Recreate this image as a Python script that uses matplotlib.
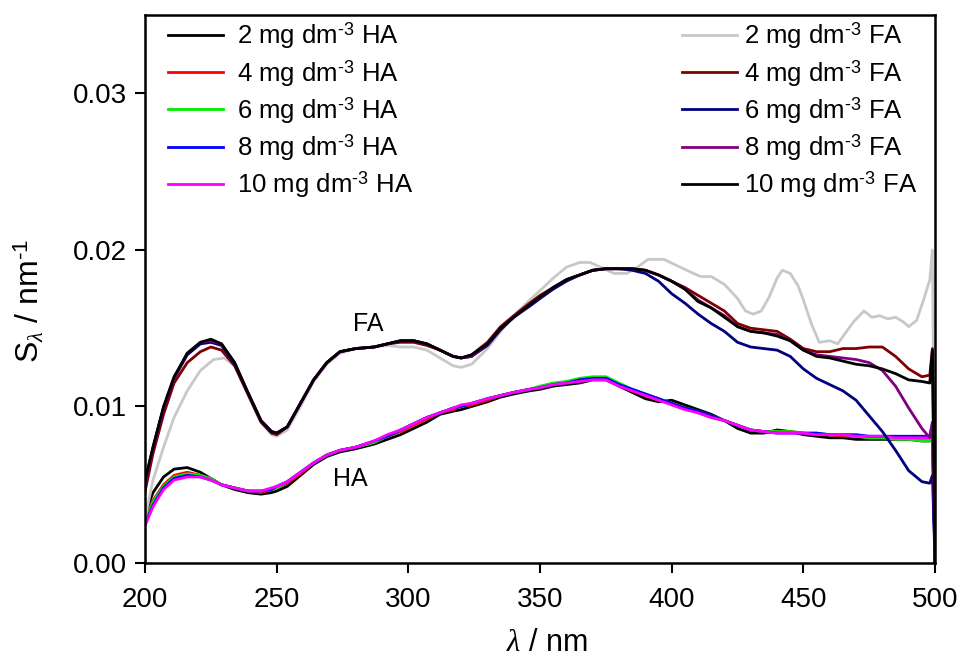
import matplotlib
matplotlib.use("Agg")
import matplotlib.pyplot as plt

plt.rcParams['font.family'] = ['Liberation Sans', 'DejaVu Sans']
plt.rcParams['mathtext.fontset'] = 'custom'
plt.rcParams['mathtext.rm'] = 'Liberation Sans'
plt.rcParams['mathtext.it'] = 'Liberation Serif:italic'

# shared wavelength grid (nm)
wl = [200, 203, 207, 211, 216, 221, 225, 229, 234, 239, 244, 248, 250, 254, 259,
      264, 269, 274, 280, 287, 292, 297, 302, 307, 312, 317, 320, 324, 330, 335,
      340, 346, 350, 355, 360, 365, 370, 375, 380, 385, 390, 395, 400, 405, 410,
      415, 420, 425, 430, 435, 440, 445, 450, 455, 460, 465, 470, 475, 480, 485,
      490, 495, 498, 499, 500]

# humic acid spectral slopes
ha2 = [0.0031, 0.0045, 0.0055, 0.0060, 0.0061, 0.0058, 0.0054, 0.0050, 0.0047, 0.0045,
       0.0044, 0.0045, 0.0046, 0.0049, 0.0056, 0.0063, 0.0068, 0.0071, 0.0073, 0.0076,
       0.0079, 0.0082, 0.0086, 0.0090, 0.0095, 0.0097, 0.0098, 0.0100, 0.0103, 0.0106,
       0.0108, 0.0110, 0.0111, 0.0113, 0.0114, 0.0115, 0.0117, 0.0117, 0.0113, 0.0109,
       0.0105, 0.0103, 0.0104, 0.0101, 0.0098, 0.0095, 0.0091, 0.0086, 0.0083, 0.0083,
       0.0085, 0.0084, 0.0082, 0.0081, 0.0080, 0.0080, 0.0079, 0.0079, 0.0079, 0.0079,
       0.0079, 0.0078, 0.0078, 0.0080, 0.0]
ha4 = [0.0027, 0.0040, 0.0050, 0.0056, 0.0058, 0.0056, 0.0054, 0.0050, 0.0048, 0.0046,
       0.0045, 0.0047, 0.0048, 0.0051, 0.0057, 0.0064, 0.0069, 0.0072, 0.0074, 0.0077,
       0.0081, 0.0084, 0.0088, 0.0092, 0.0096, 0.0098, 0.0100, 0.0101, 0.0104, 0.0107,
       0.0109, 0.0111, 0.0112, 0.0114, 0.0115, 0.0117, 0.0118, 0.0118, 0.0114, 0.0110,
       0.0107, 0.0104, 0.0102, 0.0099, 0.0096, 0.0093, 0.0091, 0.0088, 0.0085, 0.0084,
       0.0084, 0.0084, 0.0083, 0.0082, 0.0082, 0.0081, 0.0081, 0.0080, 0.0080, 0.0080,
       0.0080, 0.0080, 0.0080, 0.0086, 0.0]
ha6 = [0.0026, 0.0039, 0.0049, 0.0055, 0.0057, 0.0056, 0.0054, 0.0050, 0.0048, 0.0046,
       0.0046, 0.0047, 0.0048, 0.0052, 0.0058, 0.0064, 0.0069, 0.0072, 0.0074, 0.0077,
       0.0081, 0.0085, 0.0089, 0.0093, 0.0096, 0.0099, 0.0100, 0.0102, 0.0105, 0.0107,
       0.0109, 0.0111, 0.0113, 0.0115, 0.0116, 0.0118, 0.0119, 0.0119, 0.0115, 0.0111,
       0.0108, 0.0105, 0.0102, 0.0099, 0.0097, 0.0094, 0.0091, 0.0088, 0.0085, 0.0084,
       0.0084, 0.0084, 0.0083, 0.0083, 0.0082, 0.0082, 0.0081, 0.0080, 0.0080, 0.0079,
       0.0079, 0.0078, 0.0078, 0.0082, 0.0]
ha8 = [0.0025, 0.0037, 0.0048, 0.0054, 0.0056, 0.0055, 0.0053, 0.0050, 0.0048, 0.0046,
       0.0046, 0.0047, 0.0049, 0.0052, 0.0058, 0.0064, 0.0069, 0.0072, 0.0074, 0.0078,
       0.0081, 0.0085, 0.0089, 0.0093, 0.0096, 0.0099, 0.0100, 0.0102, 0.0105, 0.0107,
       0.0109, 0.0111, 0.0112, 0.0114, 0.0115, 0.0117, 0.0118, 0.0118, 0.0114, 0.0111,
       0.0108, 0.0105, 0.0102, 0.0099, 0.0097, 0.0094, 0.0091, 0.0088, 0.0085, 0.0084,
       0.0083, 0.0083, 0.0083, 0.0083, 0.0082, 0.0082, 0.0082, 0.0081, 0.0081, 0.0081,
       0.0081, 0.0081, 0.0081, 0.0090, 0.0]
ha10 = [0.0024, 0.0036, 0.0047, 0.0053, 0.0055, 0.0055, 0.0053, 0.0050, 0.0048, 0.0046,
        0.0046, 0.0048, 0.0049, 0.0052, 0.0058, 0.0064, 0.0069, 0.0072, 0.0074, 0.0078,
        0.0082, 0.0085, 0.0089, 0.0093, 0.0096, 0.0099, 0.0101, 0.0102, 0.0105, 0.0107,
        0.0109, 0.0111, 0.0112, 0.0114, 0.0115, 0.0116, 0.0117, 0.0117, 0.0113, 0.0110,
        0.0107, 0.0104, 0.0101, 0.0098, 0.0096, 0.0093, 0.0091, 0.0088, 0.0085, 0.0084,
        0.0083, 0.0083, 0.0083, 0.0082, 0.0082, 0.0082, 0.0081, 0.0081, 0.0081, 0.0080,
        0.0080, 0.0080, 0.0080, 0.0089, 0.0]

# fulvic acid spectral slopes
fa4 = [0.0046, 0.0070, 0.0095, 0.0115, 0.0128, 0.0135, 0.0138, 0.0136, 0.0126, 0.0108,
       0.0090, 0.0083, 0.0082, 0.0087, 0.0102, 0.0117, 0.0128, 0.0135, 0.0137, 0.0138,
       0.0140, 0.0141, 0.0141, 0.0139, 0.0136, 0.0132, 0.0131, 0.0133, 0.0141, 0.0151,
       0.0158, 0.0166, 0.0171, 0.0176, 0.0181, 0.0184, 0.0187, 0.0188, 0.0188, 0.0188,
       0.0187, 0.0184, 0.0180, 0.0176, 0.0171, 0.0166, 0.0161, 0.0153, 0.0150, 0.0149,
       0.0148, 0.0143, 0.0137, 0.0135, 0.0135, 0.0137, 0.0137, 0.0138, 0.0138, 0.0132,
       0.0124, 0.0119, 0.0120, 0.0137, 0.0]
fa6 = [0.0052, 0.0074, 0.0099, 0.0118, 0.0133, 0.0140, 0.0141, 0.0139, 0.0127, 0.0109,
       0.0091, 0.0084, 0.0083, 0.0087, 0.0102, 0.0117, 0.0128, 0.0135, 0.0137, 0.0138,
       0.0140, 0.0142, 0.0142, 0.0140, 0.0136, 0.0132, 0.0131, 0.0132, 0.0139, 0.0149,
       0.0157, 0.0164, 0.0169, 0.0175, 0.0180, 0.0184, 0.0187, 0.0188, 0.0188, 0.0187,
       0.0185, 0.0180, 0.0172, 0.0166, 0.0159, 0.0153, 0.0148, 0.0141, 0.0138, 0.0137,
       0.0136, 0.0132, 0.0124, 0.0118, 0.0114, 0.0110, 0.0104, 0.0094, 0.0084, 0.0072,
       0.0059, 0.0052, 0.0051, 0.0056, 0.0]
fa8 = [0.0050, 0.0073, 0.0099, 0.0118, 0.0134, 0.0141, 0.0142, 0.0140, 0.0128, 0.0109,
       0.0091, 0.0084, 0.0083, 0.0087, 0.0102, 0.0117, 0.0128, 0.0135, 0.0137, 0.0138,
       0.0140, 0.0142, 0.0142, 0.0140, 0.0136, 0.0132, 0.0131, 0.0132, 0.0140, 0.0150,
       0.0157, 0.0165, 0.0170, 0.0176, 0.0181, 0.0184, 0.0187, 0.0188, 0.0188, 0.0188,
       0.0187, 0.0184, 0.0180, 0.0175, 0.0168, 0.0163, 0.0158, 0.0151, 0.0148, 0.0147,
       0.0146, 0.0142, 0.0136, 0.0133, 0.0132, 0.0131, 0.0130, 0.0128, 0.0123, 0.0113,
       0.0099, 0.0086, 0.0080, 0.0089, 0.0]
fa10 = [0.0053, 0.0074, 0.0100, 0.0119, 0.0134, 0.0141, 0.0143, 0.0140, 0.0128, 0.0109,
        0.0091, 0.0084, 0.0083, 0.0087, 0.0102, 0.0117, 0.0128, 0.0135, 0.0137, 0.0138,
        0.0140, 0.0142, 0.0142, 0.0140, 0.0136, 0.0132, 0.0131, 0.0133, 0.0140, 0.0150,
        0.0157, 0.0165, 0.0170, 0.0176, 0.0181, 0.0184, 0.0187, 0.0188, 0.0188, 0.0188,
        0.0187, 0.0184, 0.0180, 0.0175, 0.0167, 0.0163, 0.0157, 0.0151, 0.0148, 0.0147,
        0.0145, 0.0142, 0.0136, 0.0132, 0.0131, 0.0129, 0.0127, 0.0126, 0.0124, 0.0121,
        0.0117, 0.0116, 0.0115, 0.0136, 0.0]

# 2 mg FA is noisy, so it has its own grid
wl_fa2 = [200, 203, 207, 211, 216, 221, 226, 230, 234, 239, 244, 248, 250, 254, 259,
          264, 269, 274, 280, 287, 292, 297, 302, 307, 312, 317, 320, 324, 330, 335,
          340, 346, 350, 355, 360, 365, 369, 373, 378, 383, 387, 391, 397, 402, 407,
          411, 415, 420, 425, 428, 431, 434, 437, 440, 442, 445, 448, 450, 453, 456,
          460, 463, 466, 469, 473, 476, 479, 482, 485, 488, 490, 493, 496, 498, 499, 500]
fa2 = [0.0029, 0.0053, 0.0074, 0.0093, 0.0110, 0.0123, 0.0130, 0.0131, 0.0126, 0.0108,
       0.0090, 0.0082, 0.0081, 0.0085, 0.0100, 0.0116, 0.0127, 0.0134, 0.0137, 0.0138,
       0.0139, 0.0138, 0.0138, 0.0136, 0.0131, 0.0126, 0.0125, 0.0127, 0.0137, 0.0148,
       0.0158, 0.0168, 0.0174, 0.0182, 0.0189, 0.0192, 0.0192, 0.0189, 0.0185, 0.0185,
       0.0189, 0.0194, 0.0194, 0.0190, 0.0186, 0.0183, 0.0183, 0.0178, 0.0169, 0.0161,
       0.0159, 0.0161, 0.0170, 0.0182, 0.0187, 0.0185, 0.0177, 0.0168, 0.0153, 0.0141,
       0.0142, 0.0140, 0.0147, 0.0154, 0.0161, 0.0157, 0.0158, 0.0156, 0.0157, 0.0154,
       0.0151, 0.0155, 0.0170, 0.0181, 0.0200, 0.0]

ha_sets = [(ha2, 'black', '2'), (ha4, '#ff0000', '4'), (ha6, '#00ee00', '6'),
           (ha8, '#0000ff', '8'), (ha10, '#ff00ff', '10')]
fa_sets = [(wl_fa2, fa2, '#c8c8c8', '2'), (wl, fa4, '#800000', '4'), (wl, fa6, '#000080', '6'),
           (wl, fa8, '#800080', '8'), (wl, fa10, 'black', '10')]

fig = plt.figure(figsize=(9.61, 6.57), dpi=100)
ax = fig.add_axes([0.151, 0.143, 0.822, 0.834])

ha_lines = []
for vals, col, c in ha_sets:
    ln, = ax.plot(wl, vals, color=col, lw=2, label=c + r' mg dm$^{\text{-}3}$ HA')
    ha_lines.append(ln)
fa_lines = []
for x, vals, col, c in fa_sets:
    ln, = ax.plot(x, vals, color=col, lw=2, label=c + r' mg dm$^{\text{-}3}$ FA')
    fa_lines.append(ln)

ax.set_xlim(200, 500)
ax.set_ylim(0, 0.035)
ax.set_xticks([200, 250, 300, 350, 400, 450, 500])
ax.set_yticks([0.0, 0.01, 0.02, 0.03])
ax.set_yticklabels(['0.00', '0.01', '0.02', '0.03'])
ax.tick_params(direction='out', length=7, width=1.5, labelsize=20, top=False, right=False)
ax.tick_params(axis='x', pad=10)
ax.tick_params(axis='y', pad=6)
for s in ax.spines.values():
    s.set_linewidth(1.8)

ax.set_xlabel(r'$\lambda$ / nm', fontsize=22)
ax.set_ylabel(r'S$_{\lambda}$ / nm$^{\text{-}1}$', fontsize=23)
ax.xaxis.set_label_coords(0.509, -0.118)
ax.yaxis.set_label_coords(-0.125, 0.478)

ax.text(284.7, 0.0153, 'FA', fontsize=18, ha='center', va='center')
ax.text(278, 0.0054, 'HA', fontsize=18, ha='center', va='center')

leg1 = ax.legend(handles=ha_lines, loc='upper left', frameon=False, fontsize=18.5,
                 handlelength=2.14, handletextpad=0.55, labelspacing=0.25,
                 borderpad=0, borderaxespad=0, bbox_to_anchor=(0.029, 0.99))
ax.add_artist(leg1)
ax.legend(handles=fa_lines, loc='upper right', frameon=False, fontsize=18.5,
          handlelength=2.14, handletextpad=0.27, labelspacing=0.25,
          borderpad=0, borderaxespad=0, bbox_to_anchor=(0.977, 0.99))

fig.savefig('out.png', dpi=100)
